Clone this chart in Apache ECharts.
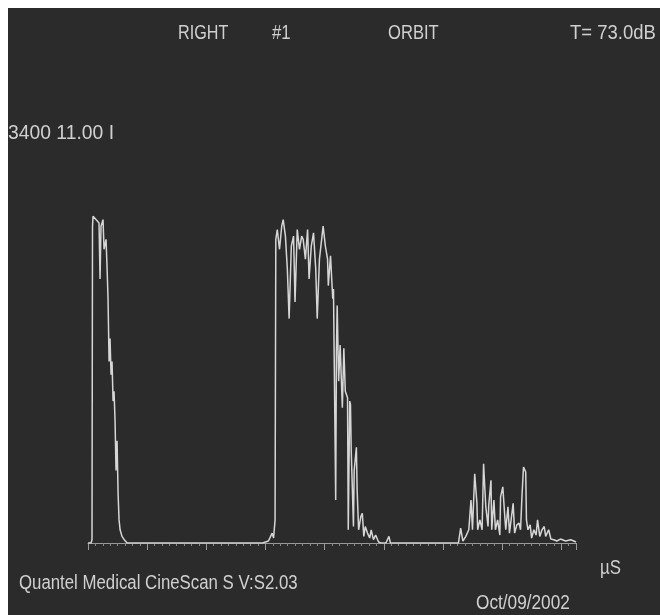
<!DOCTYPE html>
<html>
<head>
<meta charset="utf-8">
<script src="https://cdn.jsdelivr.net/npm/echarts@6/dist/echarts.min.js"></script>
<style>
  html, body { margin: 0; padding: 0; background: #fff; }
  #chart { position: absolute; left: 8px; top: 8px; width: 652px; height: 607px; }
</style>
</head>
<body>
<div id="chart"></div>
<script>
// A-scan trace: time (µS) and echo amplitude (%)
var echo1Time = [0, 0.41, 0.54, 0.61, 0.68, 1.08, 1.49, 1.63, 1.76, 2.03, 2.17, 2.44, 2.57, 2.71, 2.85, 2.98, 3.12, 3.25, 3.39, 3.52, 3.66, 3.79, 3.93, 4.07, 4.2, 4.34, 4.6, 4.9, 5.3, 23.6];
var echo1Amp  = [0, 0, 1, 96, 99, 98, 97, 80, 96, 98, 89, 92, 84, 74, 55, 62, 51, 55, 43, 46, 37, 22, 31, 15, 7, 4, 2, 1, 0, 0];

var echo2Time = [24.4, 24.7, 24.9, 25.1, 25.3, 25.4, 25.6, 25.9, 26.2, 26.4, 26.7, 26.96, 27.2, 27.5, 27.8, 28.0, 28.3, 28.6, 28.9, 29.1, 29.4, 29.7, 29.9, 30.2, 30.5, 30.8, 31.0, 31.3, 31.6, 31.8, 32.1, 32.4, 32.5, 32.8, 33.1, 33.2, 33.5, 33.6, 33.7, 33.9, 34.1, 34.4, 34.6, 34.8, 35.1, 35.2, 35.4, 35.5, 35.6, 35.9, 36.0, 36.3, 36.4, 36.6, 36.9, 37.1, 37.3, 37.5, 37.8, 38.1, 38.3, 38.6, 38.9, 39.3, 39.6, 40.3, 40.7, 40.9, 50.1];
var echo2Amp  = [0.6, 2, 3, 1.5, 7, 92, 95, 89, 96, 98, 93, 83, 68, 90, 93, 73, 95, 89, 93, 92, 86, 95, 80, 90, 94, 83, 68, 86, 92, 96, 90, 86, 78, 87, 74, 77, 13, 58, 72, 49, 60, 41, 59, 46, 44, 4, 43, 42, 28, 5, 22, 29, 16, 4, 8, 9, 2, 5, 3, 1.5, 4, 1, 2.4, 0.3, 0, 0, 2, 0, 0];

var echo3Time = [50.4, 50.7, 51.1, 51.5, 51.8, 52.0, 52.3, 52.6, 52.7, 53.0, 53.3, 53.5, 53.8, 54.1, 54.2, 54.5, 54.6, 54.9, 55.1, 55.4, 55.7, 55.8, 56.1, 56.4, 56.5, 56.8, 57.0, 57.5, 57.7, 58.0, 58.3, 58.5, 58.7, 58.9, 59.2, 59.3, 59.5, 59.8, 60.0, 60.3, 60.6, 60.8, 61.1, 61.4, 61.7, 61.9, 62.3, 62.6, 63.0, 63.4, 63.9, 64.6, 65.3, 66];
var echo3Amp  = [4.5, 0.6, 2, 4, 13, 4, 21, 12, 4, 7, 4, 24, 11, 5, 11.5, 19, 4, 13, 4, 7, 2.4, 14, 17, 7, 4, 11, 3, 12, 3, 5.5, 6, 4, 14.5, 23, 21.5, 7, 4, 5.5, 1.5, 4, 2.4, 7, 2, 4, 5, 2, 4, 1.2, 1, 0.6, 1.2, 0.6, 1, 0.3];

var headerLabels = ["RIGHT", "#1", "ORBIT", "T= 73.0dB"];
var gainLabel = "3400 11.00 I";
var unitLabel = "µS";
var deviceLabel = "Quantel Medical CineScan S V:S2.03";
var dateLabel = "Oct/09/2002";

var trace = [];
[[echo1Time, echo1Amp], [echo2Time, echo2Amp], [echo3Time, echo3Amp]].forEach(function (e) {
  e[0].forEach(function (t, i) {
    trace.push([t, e[1][i]]);
  });
});

var FONT = "'Liberation Sans', Arial, sans-serif";
var TXT = "#d0d0d0";

// narrow looking text: normal font squeezed horizontally
function label(text, x, y, size, sx) {
  return {
    type: "text",
    x: x,
    y: y,
    scaleX: sx || 0.8,
    style: { text: text, fill: TXT, font: size + "px " + FONT, textBaseline: "top" }
  };
}

var myChart = echarts.init(document.getElementById("chart"));
myChart.setOption({
  backgroundColor: "#2b2b2b",
  animation: false,
  grid: { left: 80, right: 84, top: 205, bottom: 72 },
  xAxis: {
    type: "value",
    min: 0,
    max: 66,
    interval: 8,
    offset: 5,
    axisLine: { show: true, lineStyle: { color: "#9a9a9a", width: 1 } },
    axisTick: { show: true, length: 7, lineStyle: { color: "#9a9a9a" } },
    minorTick: { show: true, splitNumber: 8, length: 3, lineStyle: { color: "#8a8a8a" } },
    axisLabel: { show: false },
    splitLine: { show: false }
  },
  yAxis: {
    type: "value",
    min: 0,
    max: 100,
    show: false
  },
  series: [
    {
      type: "line",
      data: trace,
      showSymbol: false,
      lineStyle: { color: "#d6d6d6", width: 1.5 }
    }
  ],
  graphic: [
    label(headerLabels[0], 170, 15, 21, 0.77),
    label(headerLabels[1], 264, 15, 21, 0.8),
    label(headerLabels[2], 380, 15, 21, 0.79),
    label(headerLabels[3], 562, 15, 21, 0.88),
    label(gainLabel, 0, 115, 21, 0.92),
    label(unitLabel, 592, 550, 21, 0.8),
    label(deviceLabel, 11, 565, 20, 0.84),
    label(dateLabel, 468, 585, 21, 0.82)
  ]
});
</script>
</body>
</html>
